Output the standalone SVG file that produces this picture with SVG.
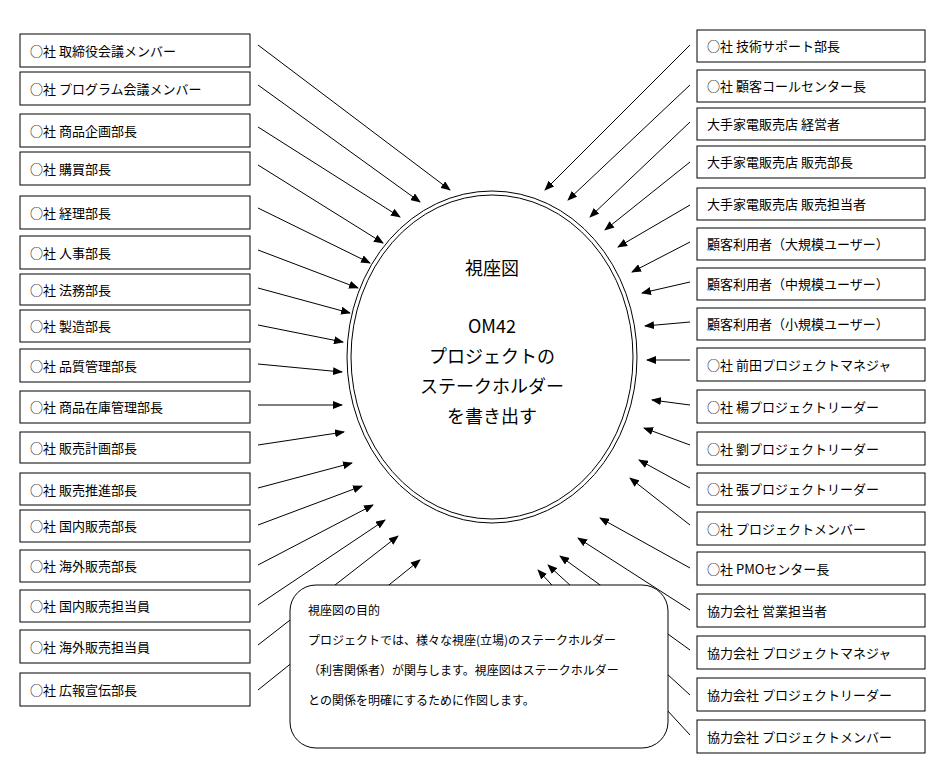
<svg xmlns="http://www.w3.org/2000/svg" width="950" height="784" viewBox="0 0 950 784">
<defs><marker id="a" markerWidth="10" markerHeight="8" refX="9" refY="4" orient="auto" markerUnits="userSpaceOnUse"><path d="M0,0L10,4L0,8z" fill="#000"/></marker></defs>
<style>
text{font-family:"Noto Sans CJK JP","Liberation Sans",sans-serif;font-size:13px;fill:#000}
.b rect{fill:#fff;stroke:#000;stroke-width:1}
#c line{stroke:#000;stroke-width:1;marker-end:url(#a)}
</style>
<rect width="950" height="784" fill="#fff"/>
<g id="c">
<line x1="258" y1="45" x2="450" y2="190"/><line x1="258" y1="85" x2="420" y2="202"/><line x1="258" y1="127" x2="400" y2="217"/><line x1="258" y1="165" x2="383" y2="243"/><line x1="258" y1="208" x2="370" y2="263"/><line x1="258" y1="250" x2="358" y2="288"/><line x1="258" y1="288" x2="350" y2="313"/><line x1="258" y1="325" x2="343" y2="342"/><line x1="258" y1="364" x2="342" y2="372"/><line x1="258" y1="405" x2="342" y2="405"/><line x1="258" y1="445" x2="344" y2="432"/><line x1="258" y1="488" x2="352" y2="463"/><line x1="258" y1="525" x2="362" y2="486"/><line x1="258" y1="565" x2="373" y2="505"/><line x1="258" y1="605" x2="385" y2="520"/><line x1="258" y1="645" x2="398" y2="536"/><line x1="258" y1="690" x2="420" y2="560"/>
<line x1="690" y1="45" x2="545" y2="190"/><line x1="690" y1="85" x2="568" y2="200"/><line x1="690" y1="122" x2="590" y2="217"/><line x1="690" y1="162" x2="605" y2="230"/><line x1="690" y1="205" x2="618" y2="247"/><line x1="690" y1="242" x2="632" y2="272"/><line x1="690" y1="282" x2="642" y2="293"/><line x1="690" y1="322" x2="645" y2="326"/><line x1="690" y1="360" x2="647" y2="360"/><line x1="690" y1="405" x2="652" y2="400"/><line x1="690" y1="445" x2="644" y2="428"/><line x1="690" y1="488" x2="639" y2="460"/><line x1="690" y1="525" x2="630" y2="478"/><line x1="690" y1="568" x2="600" y2="518"/><line x1="690" y1="610" x2="578" y2="538"/><line x1="690" y1="650" x2="560" y2="556"/><line x1="690" y1="695" x2="548" y2="565"/><line x1="690" y1="735" x2="538" y2="570"/>
</g>
<g id="center">
<ellipse cx="492" cy="357" rx="145" ry="166" fill="#fff" stroke="#000" stroke-width="1"/>
<ellipse cx="492" cy="357" rx="141" ry="162" fill="none" stroke="#000" stroke-width="1"/>
<text x="492" y="275" text-anchor="middle" style="font-size:18px">視座図</text>
<text x="492" y="333" text-anchor="middle" style="font-size:18px">OM42</text>
<text x="492" y="363" text-anchor="middle" style="font-size:18px">プロジェクトの</text>
<text x="492" y="393" text-anchor="middle" style="font-size:18px">ステークホルダー</text>
<text x="492" y="423" text-anchor="middle" style="font-size:18px">を書き出す</text>
</g>
<g id="note">
<rect x="290" y="585" width="378" height="163" rx="26" fill="#fff" stroke="#000"/>
<text x="308" y="615" style="font-size:12px">視座図の目的</text>
<text x="308" y="645" style="font-size:12px">プロジェクトでは、様々な視座(立場)のステークホルダー</text>
<text x="308" y="675" style="font-size:12px">（利害関係者）が関与します。視座図はステークホルダー</text>
<text x="308" y="705" style="font-size:12px">との関係を明確にするために作図します。</text>
</g>
<g id="L1" class="b"><rect x="20" y="34" width="230" height="33"/><text x="30" y="56">○社 取締役会議メンバー</text></g>
<g id="L2" class="b"><rect x="20" y="72" width="230" height="33"/><text x="30" y="94">○社 プログラム会議メンバー</text></g>
<g id="L3" class="b"><rect x="20" y="114" width="230" height="33"/><text x="30" y="136">○社 商品企画部長</text></g>
<g id="L4" class="b"><rect x="20" y="152" width="230" height="33"/><text x="30" y="174">○社 購買部長</text></g>
<g id="L5" class="b"><rect x="20" y="196" width="230" height="33"/><text x="30" y="218">○社 経理部長</text></g>
<g id="L6" class="b"><rect x="20" y="236" width="230" height="33"/><text x="30" y="258">○社 人事部長</text></g>
<g id="L7" class="b"><rect x="20" y="274" width="230" height="31"/><text x="30" y="295">○社 法務部長</text></g>
<g id="L8" class="b"><rect x="20" y="310" width="230" height="32"/><text x="30" y="331">○社 製造部長</text></g>
<g id="L9" class="b"><rect x="20" y="349" width="230" height="33"/><text x="30" y="371">○社 品質管理部長</text></g>
<g id="L10" class="b"><rect x="20" y="391" width="230" height="32"/><text x="30" y="412">○社 商品在庫管理部長</text></g>
<g id="L11" class="b"><rect x="20" y="432" width="230" height="31"/><text x="30" y="453">○社 販売計画部長</text></g>
<g id="L12" class="b"><rect x="20" y="473" width="230" height="32"/><text x="30" y="495">○社 販売推進部長</text></g>
<g id="L13" class="b"><rect x="20" y="510" width="230" height="32"/><text x="30" y="531">○社 国内販売部長</text></g>
<g id="L14" class="b"><rect x="20" y="550" width="230" height="32"/><text x="30" y="571">○社 海外販売部長</text></g>
<g id="L15" class="b"><rect x="20" y="590" width="230" height="32"/><text x="30" y="611">○社 国内販売担当員</text></g>
<g id="L16" class="b"><rect x="20" y="630" width="230" height="33"/><text x="30" y="652">○社 海外販売担当員</text></g>
<g id="L17" class="b"><rect x="20" y="673" width="230" height="33"/><text x="30" y="695">○社 広報宣伝部長</text></g>
<g id="R1" class="b"><rect x="697" y="30" width="228" height="32"/><text x="707" y="51">○社 技術サポート部長</text></g>
<g id="R2" class="b"><rect x="697" y="70" width="228" height="32"/><text x="707" y="91">○社 顧客コールセンター長</text></g>
<g id="R3" class="b"><rect x="697" y="108" width="228" height="32"/><text x="707" y="129">大手家電販売店 経営者</text></g>
<g id="R4" class="b"><rect x="697" y="146" width="228" height="32"/><text x="707" y="167">大手家電販売店 販売部長</text></g>
<g id="R5" class="b"><rect x="697" y="188" width="228" height="32"/><text x="707" y="209">大手家電販売店 販売担当者</text></g>
<g id="R6" class="b"><rect x="697" y="228" width="228" height="32"/><text x="707" y="249">顧客利用者（大規模ユーザー）</text></g>
<g id="R7" class="b"><rect x="697" y="268" width="228" height="32"/><text x="707" y="289">顧客利用者（中規模ユーザー）</text></g>
<g id="R8" class="b"><rect x="697" y="308" width="228" height="32"/><text x="707" y="329">顧客利用者（小規模ユーザー）</text></g>
<g id="R9" class="b"><rect x="697" y="348" width="228" height="33"/><text x="707" y="370">○社 前田プロジェクトマネジャ</text></g>
<g id="R10" class="b"><rect x="697" y="390" width="228" height="33"/><text x="707" y="412">○社 楊プロジェクトリーダー</text></g>
<g id="R11" class="b"><rect x="697" y="432" width="228" height="33"/><text x="707" y="454">○社 劉プロジェクトリーダー</text></g>
<g id="R12" class="b"><rect x="697" y="473" width="228" height="32"/><text x="707" y="494">○社 張プロジェクトリーダー</text></g>
<g id="R13" class="b"><rect x="697" y="512" width="228" height="33"/><text x="707" y="534">○社 プロジェクトメンバー</text></g>
<g id="R14" class="b"><rect x="697" y="552" width="228" height="33"/><text x="707" y="574">○社 PMOセンター長</text></g>
<g id="R15" class="b"><rect x="697" y="594" width="228" height="33"/><text x="707" y="616">協力会社 営業担当者</text></g>
<g id="R16" class="b"><rect x="697" y="636" width="228" height="33"/><text x="707" y="658">協力会社 プロジェクトマネジャ</text></g>
<g id="R17" class="b"><rect x="697" y="678" width="228" height="33"/><text x="707" y="700">協力会社 プロジェクトリーダー</text></g>
<g id="R18" class="b"><rect x="697" y="720" width="228" height="33"/><text x="707" y="742">協力会社 プロジェクトメンバー</text></g>
</svg>
